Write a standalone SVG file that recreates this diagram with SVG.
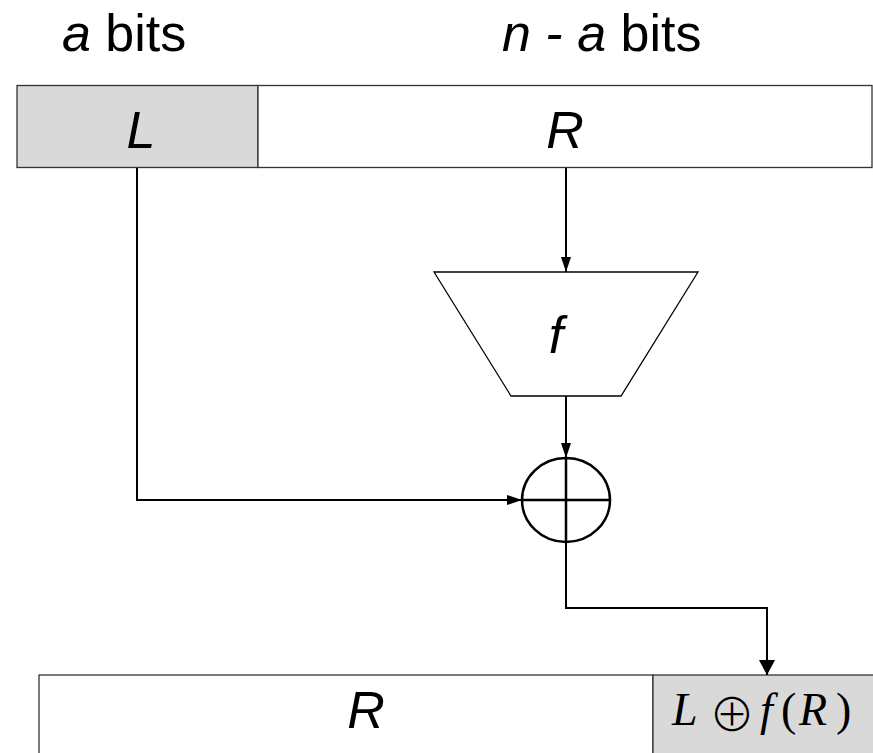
<svg xmlns="http://www.w3.org/2000/svg" width="873" height="753" viewBox="0 0 873 753">
  <style>
    .box { stroke: #333333; stroke-width: 1.3; }
    .gray { fill: #d9d9d9; }
    .white { fill: #ffffff; }
    .lbl { font-family: "Liberation Sans", Arial, sans-serif; font-size: 52px; fill: #000000; }
    .it { font-style: italic; }
    .conn { fill: none; stroke: #000000; stroke-width: 2; }
    .math { font-family: "Liberation Serif", "Times New Roman", serif; font-size: 46px; fill: #000000; }
  </style>
  <defs>
    <marker id="arr" markerUnits="userSpaceOnUse" markerWidth="16" markerHeight="11" refX="15" refY="5" orient="auto">
      <path d="M0,0 L15,5 L0,10 z" fill="#000000"/>
    </marker>
    <marker id="arrBig" markerUnits="userSpaceOnUse" markerWidth="16" markerHeight="17" refX="15" refY="8" orient="auto">
      <path d="M0,0 L15,8 L0,16 z" fill="#000000"/>
    </marker>
  </defs>
  <rect width="873" height="753" fill="#ffffff"/>

  <g id="header-a">
    <text class="lbl" x="62" y="51"><tspan class="it">a</tspan> bits</text>
  </g>
  <g id="header-na">
    <text class="lbl" x="502" y="51"><tspan class="it">n - a</tspan> bits</text>
  </g>

  <g id="top-L">
    <rect class="box gray" x="17" y="85.5" width="241" height="82"/>
    <text class="lbl it" x="141" y="148" text-anchor="middle">L</text>
  </g>
  <g id="top-R">
    <rect class="box white" x="258" y="85.5" width="614" height="82"/>
    <text class="lbl it" x="565" y="148" text-anchor="middle">R</text>
  </g>

  <g id="f-func">
    <polygon points="434,272 698,272 621,396 511,396" fill="#ffffff" stroke="#000000" stroke-width="1.3"/>
    <text class="lbl it" x="556" y="353" text-anchor="middle">f</text>
  </g>

  <g id="xor">
    <ellipse cx="566" cy="500" rx="44" ry="42" fill="#ffffff" stroke="#000000" stroke-width="2.5"/>
    <line x1="566" y1="458" x2="566" y2="542" stroke="#000000" stroke-width="2.5"/>
    <line x1="522" y1="500" x2="610" y2="500" stroke="#000000" stroke-width="2.5"/>
  </g>

  <g id="bottom-R">
    <rect class="box white" x="39" y="675" width="614" height="90"/>
    <text class="lbl it" x="366" y="728" text-anchor="middle">R</text>
  </g>
  <g id="bottom-LfR">
    <rect class="box gray" x="653" y="675" width="230" height="90"/>
    <text class="math"><tspan x="672" y="725" font-style="italic">L</tspan><tspan x="709" y="731" font-family="'Noto Sans CJK SC', 'DejaVu Sans', sans-serif" font-size="46" font-weight="300">⊕</tspan><tspan x="760" y="725" font-style="italic">f</tspan><tspan x="781" y="725">(</tspan><tspan x="799" y="725" font-style="italic">R</tspan><tspan x="836" y="725">)</tspan></text>
  </g>

  <g id="connectors">
    <path class="conn" d="M137,168 V500 H522" marker-end="url(#arr)"/>
    <path class="conn" d="M566,168 V272" marker-end="url(#arr)"/>
    <path class="conn" d="M566,396 V458" marker-end="url(#arr)"/>
    <path class="conn" d="M566,542 V608 H767 V675" marker-end="url(#arrBig)"/>
  </g>
</svg>
